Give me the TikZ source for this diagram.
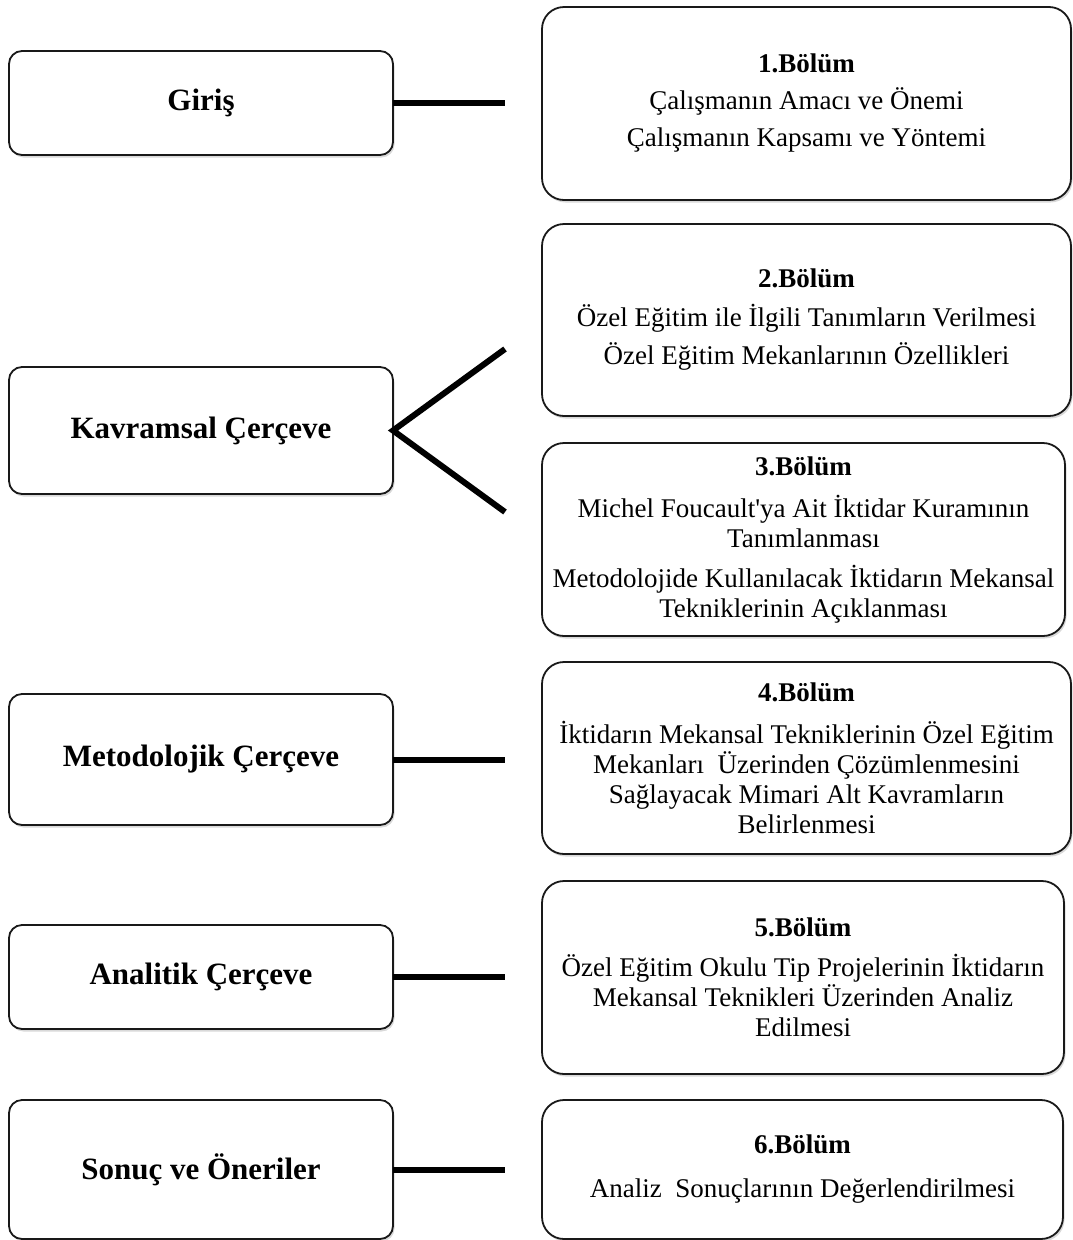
\documentclass[tikz,border=0pt]{standalone}
\usepackage{fontspec}
\setmainfont{Liberation Serif}[Ligatures=TeXOff]
\usetikzlibrary{shadows}
\tikzset{
  lbox/.style={draw=black!90, line width=1.8pt, rounded corners=13pt, fill=white,
    inner sep=0pt, outer sep=0pt, align=center,
    font=\fontsize{31}{36}\selectfont\bfseries,
    drop shadow={shadow xshift=1.5pt, shadow yshift=-2.5pt, opacity=0.3}},
  rbox/.style={draw=black!90, line width=1.8pt, rounded corners=22pt, fill=white,
    inner sep=0pt, outer sep=0pt, align=center,
    font=\fontsize{27}{30}\selectfont,
    drop shadow={shadow xshift=1.5pt, shadow yshift=-2.5pt, opacity=0.3}},
  conn/.style={line width=6pt, black, line join=miter}
}
\begin{document}
\begin{tikzpicture}[x=1pt,y=-1pt]
\useasboundingbox (0,0) rectangle (1072,1240);

% left column
\node[lbox, minimum width=384pt, minimum height=104pt] (giris) at (201,103) {Giriş};
\node[lbox, minimum width=384pt, minimum height=127pt] (kav) at (201,430.5) {Kavramsal Çerçeve};
\node[lbox, minimum width=384pt, minimum height=131pt] (met) at (201,759.5) {Metodolojik Çerçeve};
\node[lbox, minimum width=384pt, minimum height=104pt] (ana) at (201,977) {Analitik Çerçeve};
\node[lbox, minimum width=384pt, minimum height=139pt] (son) at (201,1169.5) {Sonuç ve Öneriler};

% right column
\node[rbox, minimum width=529pt, minimum height=193pt] (b1) at (806.5,103.5)
  {\textbf{1.Bölüm}\\[7pt] Çalışmanın Amacı ve Önemi\\[7pt] Çalışmanın Kapsamı ve Yöntemi};
\node[rbox, minimum width=529pt, minimum height=192pt] (b2) at (806.5,320)
  {\textbf{2.Bölüm}\\[9pt] Özel Eğitim ile İlgili Tanımların Verilmesi\\[8pt] Özel Eğitim Mekanlarının Özellikleri};
\node[rbox, minimum width=523pt, minimum height=193pt] (b3) at (803.5,539.5)
  {\textbf{3.Bölüm}\\[12pt] Michel Foucault'ya Ait İktidar Kuramının\\ Tanımlanması\\[10pt] Metodolojide Kullanılacak İktidarın Mekansal\\ Tekniklerinin Açıklanması};
\node[rbox, minimum width=529pt, minimum height=192pt] (b4) at (806.5,758)
  {\textbf{4.Bölüm}\\[12pt] İktidarın Mekansal Tekniklerinin Özel Eğitim\\ Mekanları\ \ Üzerinden Çözümlenmesini\\ Sağlayacak Mimari Alt Kavramların\\ Belirlenmesi};
\node[rbox, minimum width=522pt, minimum height=193pt] (b5) at (803,977.5)
  {\textbf{5.Bölüm}\\[10pt] Özel Eğitim Okulu Tip Projelerinin İktidarın\\ Mekansal Teknikleri Üzerinden Analiz\\ Edilmesi};
\node[rbox, minimum width=521pt, minimum height=139pt] (b6) at (802.5,1169.5)
  {\textbf{6.Bölüm}\\[14pt] Analiz\ \ Sonuçlarının Değerlendirilmesi};

% connector ends
\coordinate (e1) at (505,103);
\coordinate (e2a) at (505,349);
\coordinate (e2b) at (505,512);
\coordinate (e4) at (505,759.5);
\coordinate (e5) at (505,977);
\coordinate (e6) at (505,1169.5);

\draw[conn] (giris.east) -- (e1);
\draw[conn] (e2a) -- (kav.east) -- (e2b);
\draw[conn] (met.east) -- (e4);
\draw[conn] (ana.east) -- (e5);
\draw[conn] (son.east) -- (e6);
\end{tikzpicture}
\end{document}
